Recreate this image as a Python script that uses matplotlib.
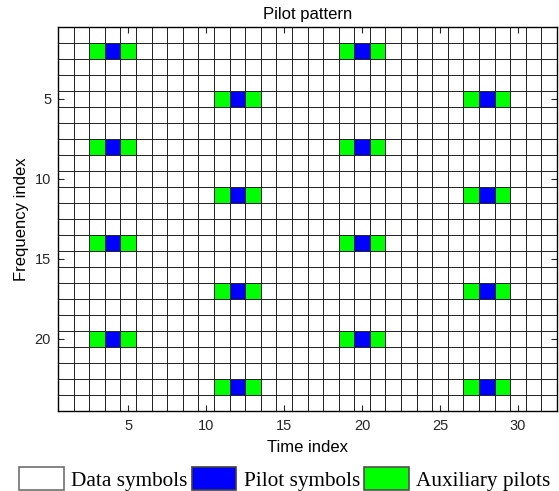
import numpy as np
import matplotlib
matplotlib.use('Agg')
import matplotlib.pyplot as plt
from matplotlib.colors import ListedColormap
from matplotlib.patches import Patch

# grid size (time x frequency)
n_time = 32
n_freq = 24

# pilot locations: two interleaved groups
pilot_time_a = [4, 20]
pilot_freq_a = [2, 8, 14, 20]
pilot_time_b = [12, 28]
pilot_freq_b = [5, 11, 17, 23]
aux_offsets = [-1, 1]

x_ticks = [5, 10, 15, 20, 25, 30]
y_ticks = [5, 10, 15, 20]
legend_labels = ['Data symbols', 'Pilot symbols', 'Auxiliary pilots']

# 0 = data, 1 = pilot, 2 = auxiliary pilot
grid = np.zeros((n_freq, n_time), dtype=int)
for times, freqs in [(pilot_time_a, pilot_freq_a), (pilot_time_b, pilot_freq_b)]:
    for t in times:
        for f in freqs:
            grid[f - 1, t - 1] = 1
            for d in aux_offsets:
                grid[f - 1, t - 1 + d] = 2

cmap = ListedColormap(['white', '#0000ff', '#00ff00'])

fig = plt.figure(figsize=(5.59, 4.91), dpi=100)
ax = fig.add_axes([0.1038, 0.163, 0.8926, 0.782])

t_edges = np.arange(n_time + 1) + 0.5
f_edges = np.arange(n_freq + 1) + 0.5
ax.pcolormesh(t_edges, f_edges, grid, cmap=cmap, vmin=-0.5, vmax=2.5,
              edgecolors='#262626', linewidth=0.65)

ax.set_xlim(0.5, n_time + 0.5)
ax.set_ylim(n_freq + 0.5, 0.5)
ax.set_xticks(x_ticks)
ax.set_yticks(y_ticks)
ax.tick_params(direction='in', top=True, right=True, length=4, width=0.8,
               labelsize=10.5, colors='#262626', pad=6)
ax.tick_params(axis='y', pad=5)
for tl in ax.get_xticklabels() + ax.get_yticklabels():
    tl.set_fontfamily('Liberation Sans')
for s in ax.spines.values():
    s.set_linewidth(1.0)
    s.set_color('black')

ax.set_title('Pilot pattern', fontsize=12, family='Liberation Sans', pad=6)
ax.set_xlabel('Time index', fontsize=12, family='Liberation Sans', labelpad=5)
ax.set_ylabel('Frequency index', fontsize=12, family='Liberation Sans', labelpad=4)

handles = [Patch(facecolor='white', edgecolor='#707070', linewidth=1.2),
           Patch(facecolor='#0000ff', edgecolor='#404040', linewidth=1.2),
           Patch(facecolor='#00ff00', edgecolor='#505050', linewidth=1.2)]
fig.legend(handles, legend_labels, ncol=3, loc='upper left',
           bbox_to_anchor=(0.034, 0.048), frameon=False,
           prop={'family': 'Liberation Serif', 'size': 15.3},
           handlelength=2.1, handleheight=1.25, handletextpad=0.35,
           columnspacing=0.2, borderaxespad=0, borderpad=0)

fig.savefig('out.png', dpi=100)
